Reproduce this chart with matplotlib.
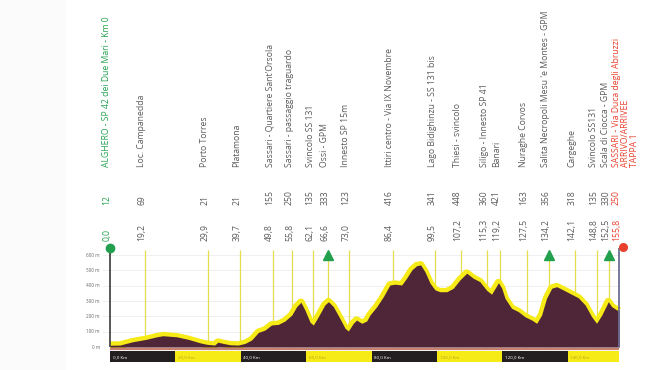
import matplotlib
matplotlib.use("Agg")
import matplotlib.pyplot as plt
import matplotlib.transforms as mtransforms
from matplotlib.patches import Rectangle

plt.rcParams['font.family'] = ['Open Sans', 'DejaVu Sans']

# ---------------- data ----------------
profile_km = [0, 3, 7, 11, 14.3, 16.2, 20.4, 24, 27.5, 29.6, 32, 33, 34.6, 36.7, 39.2,
              41.3, 43.3, 45.4, 47.4, 49.4, 51.5, 53.5, 55.6, 57.1, 58.4, 59.6, 61.2,
              62.2, 63.7, 65.7, 66.8, 68.3, 70.3, 71.9, 72.9, 74.4, 75.4, 77, 78.5,
              79.5, 81.6, 83.6, 85.6, 87.2, 89.2, 90.7, 92.3, 93.8, 95, 96.3, 97.9,
              99.4, 100.9, 103, 105, 107, 109.1, 111.1, 113.1, 115.2, 116.7, 118.8,
              119.8, 120.8, 122.8, 124.9, 126.9, 129, 130.5, 132, 133.5, 135.1, 136.6,
              138.6, 141.2, 143.2, 145.3, 147.3, 148.8, 150.4, 152.4, 153.4, 155, 155.8]
profile_elev = [12, 13, 35, 50, 67, 74, 67, 50, 28, 18, 13, 32, 24, 15, 13,
                24, 46, 96, 111, 144, 148, 170, 209, 264, 292, 242, 161,
                144, 198, 275, 296, 264, 187, 122, 105, 155, 176, 155, 170,
                209, 264, 329, 405, 410, 405, 449, 503, 531, 536, 492, 416,
                373, 361, 361, 384, 438, 482, 449, 427, 370, 345, 420,
                384, 318, 253, 231, 198, 176, 155, 209, 318, 384, 394,
                373, 344, 322, 275, 198, 155, 209, 296, 264, 242, 235]

wp_km = [0.0, 19.2, 29.9, 39.7, 49.8, 55.8, 62.1, 66.6, 73.0, 86.4, 99.5, 107.2,
         115.3, 119.2, 127.5, 134.2, 142.1, 148.8, 152.5, 155.8]
wp_line_km = [0.0, 10.7, 29.9, 39.7, 49.8, 55.8, 62.1, 66.6, 73.0, 86.4, 99.5, 107.2,
              115.3, 119.2, 127.5, 134.2, 142.1, 148.8, 152.5, 155.8]
wp_km_labels = ["0,0", "19,2", "29,9", "39,7", "49,8", "55,8", "62,1", "66,6", "73,0",
                "86,4", "99,5", "107,2", "115,3", "119,2", "127,5", "134,2", "142,1",
                "148,8", "152,5", "155,8"]
wp_alt = [12, 69, 21, 21, 155, 250, 135, 333, 123, 416, 341, 448, 360, 421, 163, 356,
          318, 135, 330, 250]
wp_names = ["ALGHERO - SP 42 dei Due Mari - Km 0", "Loc. Campanedda", "Porto Torres",
            "Platamona", "Sassari - Quartiere Sant'Orsola", "Sassari - passaggio traguardo",
            "Svincolo SS 131", "Ossi - GPM", "Innesto SP 15m",
            "Ittiri centro - Via IX Novembre", "Lago Bidighinzu - SS 131 bis",
            "Thiesi - svincolo", "Siligo - Innesto SP 41", "Banari", "Nuraghe Corvos",
            "Salita Necropoli Mesu 'e Montes - GPM", "Cargeghe", "Svincolo SS131",
            "Scala di Ciocca - GPM",
            "SASSARI - Via Duca degli Abruzzi\nARRIVO/ARRIVEE\nTAPPA 1"]
gpm_km = [66.6, 134.2, 152.5]

y_ticks = [0, 100, 200, 300, 400, 500, 600]
y_tick_labels = ["0 m", "100 m", "200 m", "300 m", "400 m", "500 m", "600 m"]

band_edges = [0, 20, 40, 60, 80, 100, 120, 140, 155.8]
band_labels = ["0,0 Km", "20,0 Km", "40,0 Km", "60,0 Km", "80,0 Km", "100,0 Km",
               "120,0 Km", "140,0 Km"]

# ---------------- styles ----------------
GREEN = "#22a04e"
RED = "#e8402c"
GRAY_TXT = "#5a5a5a"
FILL = "#4f2538"
YELLOW = "#f6ea17"
VLINE = "#e6de4e"
FS = 6.2

W, H = 660, 370
fig = plt.figure(figsize=(W / 100, H / 100), dpi=100)
fig.patch.set_facecolor("white")
fig.patches.append(Rectangle((0, 0), 65 / W, 1, transform=fig.transFigure,
                             color="#fbfbfb", zorder=0))

ax = fig.add_axes([103 / W, 5 / H, (625 - 103) / W, (365 - 243) / H])
ax.set_xlim(-2.14, 157.5)
ax.set_ylim(-117, 679)
ax.axis("off")

end_km = profile_km[-1]

# grid + y labels
for yv, lab in zip(y_ticks, y_tick_labels):
    if yv > 0:
        ax.hlines(yv, -2.5, end_km, color="#ececec", lw=0.6, zorder=0.5)
    ax.text(-3.1, yv, lab, ha="right", va="center", fontsize=3.3, color="#666666")

# vertical marker lines
top_line = 633
for i, k in enumerate(wp_line_km):
    if i == 0:
        ax.vlines(k, 0, 646, color="#4a4a4a", lw=1.3, zorder=4)
    elif i == len(wp_line_km) - 1:
        ax.vlines(k, 0, 646, color="#6e6e92", lw=1.3, zorder=4)
    else:
        top = 600 if k in gpm_km else top_line
        ax.vlines(k, 0, top, color=VLINE, lw=0.9, zorder=1)

# profile
ax.plot(profile_km, profile_elev, color=YELLOW, lw=5.5, zorder=2,
        solid_joinstyle="round", solid_capstyle="butt")
ax.fill_between(profile_km, profile_elev, 0, color=FILL, lw=0, zorder=3)

# baseline
ax.hlines(-12, 0, end_km, color="#c6826f", lw=1.6, zorder=3)

# km band
for i, lab in enumerate(band_labels):
    x0, x1 = band_edges[i], band_edges[i + 1]
    col = "#231f20" if i % 2 == 0 else YELLOW
    ax.bar(x0, -72, bottom=-26, width=x1 - x0, align="edge", color=col, lw=0, zorder=3)
    ax.text(x0 + 0.8, -62, lab, ha="left", va="center", fontsize=3.2,
            color="#ffffff" if i % 2 == 0 else "#b8a020", zorder=4)

# GPM triangles and start/finish dots
ax.plot(gpm_km, [600] * len(gpm_km), marker="^", ls="none", ms=6.5, color=GREEN,
        zorder=5, clip_on=False)
ax.plot([wp_line_km[0]], [646], marker="o", ms=6, color=GREEN, zorder=6, clip_on=False)
ax.plot([wp_line_km[-1] + 1.2], [650], marker="o", ms=5.5, color=RED, zorder=6,
        clip_on=False)

# top text columns
xoff = mtransforms.offset_copy(ax.transData, fig=fig, x=-3, y=0, units="dots")
tr = mtransforms.blended_transform_factory(xoff, fig.transFigure)
xoff2 = mtransforms.offset_copy(ax.transData, fig=fig, x=-7.5, y=0, units="dots")
tr2 = mtransforms.blended_transform_factory(xoff2, fig.transFigure)
n = len(wp_km)
for i in range(n):
    k = wp_line_km[i]
    col = GREEN if i == 0 else (RED if i == n - 1 else GRAY_TXT)
    fig.text(k, (H - 241) / H, wp_km_labels[i], rotation=90, ha="center", va="bottom",
             fontsize=FS, color=col, transform=tr)
    fig.text(k, (H - 205) / H, str(wp_alt[i]), rotation=90, ha="center", va="bottom",
             fontsize=FS, color=col, transform=tr)
    fig.text(k, (H - 167) / H, wp_names[i], rotation=90, ha="left", va="bottom",
             fontsize=FS, color=col, transform=tr2, linespacing=1.0)

fig.savefig("out.png", dpi=100, facecolor="white")
